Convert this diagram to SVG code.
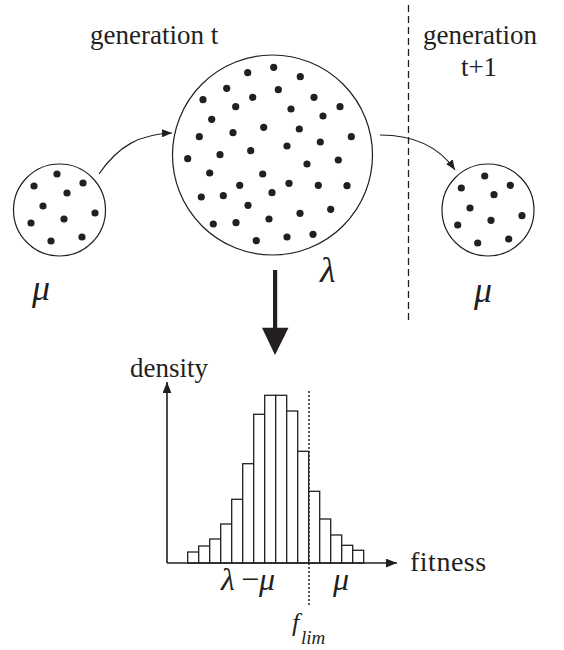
<svg xmlns="http://www.w3.org/2000/svg" width="564" height="650" viewBox="0 0 564 650">
<style>
.t{font-family:'Liberation Serif','Times New Roman',serif;fill:#231f20}
.g{font-family:'Liberation Serif','Times New Roman',serif;font-style:italic;fill:#231f20}
.pop{fill:#fff;stroke:#231f20;stroke-width:1.2}
.dot{fill:#231f20}
.bar{fill:#fff;stroke:#231f20;stroke-width:1.3}
.ln{fill:none;stroke:#231f20;stroke-width:1.2}
</style>
<defs>
<marker id="ah" viewBox="0 0 10 8" refX="10" refY="4" markerWidth="10" markerHeight="8" markerUnits="userSpaceOnUse" orient="auto">
<path d="M0,0 L10,4 L0,8 Z" fill="#231f20"/>
</marker>
<marker id="ax" viewBox="0 0 10 8" refX="10" refY="4" markerWidth="11" markerHeight="9" markerUnits="userSpaceOnUse" orient="auto">
<path d="M0,0 L10,4 L0,8 Z" fill="#231f20"/>
</marker>
</defs>
<rect width="564" height="650" fill="#fff"/>

<text class="t" x="90" y="44" font-size="27">generation t</text>
<text class="t" x="423" y="44" font-size="27">generation</text>
<text class="t" x="479" y="76" font-size="27" text-anchor="middle">t+1</text>

<line x1="408.5" y1="5" x2="408.5" y2="322" stroke="#231f20" stroke-width="1.3" stroke-dasharray="7,4"/>

<g id="pop-mu-left">
<circle class="pop" cx="59.5" cy="210" r="46"/>
<g class="dot">
<circle cx="57" cy="174" r="3.6"/><circle cx="34" cy="186" r="3.6"/><circle cx="83" cy="183" r="3.6"/>
<circle cx="67" cy="193" r="3.6"/><circle cx="43" cy="206" r="3.6"/><circle cx="95" cy="213" r="3.6"/>
<circle cx="64" cy="219" r="3.6"/><circle cx="31" cy="223" r="3.6"/><circle cx="51" cy="241" r="3.6"/>
<circle cx="82" cy="237" r="3.6"/>
</g>
<text class="g" x="32" y="300" font-size="36">μ</text>
</g>

<g id="pop-lambda">
<circle class="pop" cx="272.5" cy="155" r="100"/>
<g class="dot">
<circle cx="247.7" cy="72.7" r="3.6"/><circle cx="273.7" cy="67.3" r="3.6"/><circle cx="300.3" cy="76.7" r="3.6"/>
<circle cx="226.7" cy="88.3" r="3.6"/><circle cx="278.3" cy="89.7" r="3.6"/><circle cx="203" cy="99.7" r="3.6"/>
<circle cx="252.7" cy="97.3" r="3.6"/><circle cx="314" cy="97.3" r="3.6"/><circle cx="235.7" cy="106.7" r="3.6"/>
<circle cx="291" cy="109" r="3.6"/><circle cx="340" cy="106.7" r="3.6"/><circle cx="211.7" cy="119.3" r="3.6"/>
<circle cx="323" cy="116" r="3.6"/><circle cx="263.7" cy="127.3" r="3.6"/><circle cx="299.3" cy="129" r="3.6"/>
<circle cx="233" cy="132.7" r="3.6"/><circle cx="199.3" cy="136.7" r="3.6"/><circle cx="351.3" cy="136.7" r="3.6"/>
<circle cx="320.3" cy="142" r="3.6"/><circle cx="287" cy="146" r="3.6"/><circle cx="250.7" cy="150.7" r="3.6"/>
<circle cx="187.7" cy="158.7" r="3.6"/><circle cx="220" cy="154.7" r="3.6"/><circle cx="338.3" cy="160" r="3.6"/>
<circle cx="307" cy="164" r="3.6"/><circle cx="209.7" cy="173" r="3.6"/><circle cx="262.7" cy="174" r="3.6"/>
<circle cx="239.7" cy="185.3" r="3.6"/><circle cx="289" cy="183.3" r="3.6"/><circle cx="318.3" cy="185.3" r="3.6"/>
<circle cx="347" cy="185.7" r="3.6"/><circle cx="201.3" cy="197" r="3.6"/><circle cx="223.3" cy="195.7" r="3.6"/>
<circle cx="272" cy="192.7" r="3.6"/><circle cx="248" cy="205.3" r="3.6"/><circle cx="300" cy="213.3" r="3.6"/>
<circle cx="330.7" cy="209.3" r="3.6"/><circle cx="213.3" cy="224" r="3.6"/><circle cx="236" cy="222.7" r="3.6"/>
<circle cx="269" cy="219" r="3.6"/><circle cx="256.3" cy="240.7" r="3.6"/><circle cx="287" cy="237" r="3.6"/>
<circle cx="313" cy="234.3" r="3.6"/>
</g>
<text class="g" x="320" y="282" font-size="36">λ</text>
</g>

<g id="pop-mu-right">
<circle class="pop" cx="488" cy="210" r="46"/>
<g class="dot">
<circle cx="484.7" cy="176" r="3.6"/><circle cx="461.3" cy="188" r="3.6"/><circle cx="510.3" cy="185.3" r="3.6"/>
<circle cx="494" cy="194.7" r="3.6"/><circle cx="470" cy="208" r="3.6"/><circle cx="522" cy="215.7" r="3.6"/>
<circle cx="491" cy="220.3" r="3.6"/><circle cx="457.7" cy="225" r="3.6"/><circle cx="477.7" cy="243" r="3.6"/>
<circle cx="508.7" cy="239" r="3.6"/>
</g>
<text class="g" x="474" y="302" font-size="36">μ</text>
</g>

<g id="connectors">
<path class="ln" d="M99,174 C118,146 140,134 172,133" marker-end="url(#ah)"/>
<path class="ln" d="M380,135 C415,135 440,148 455,170" marker-end="url(#ah)"/>
<rect x="273" y="270" width="4.2" height="59" fill="#231f20"/>
<path d="M262,327.7 L288.5,327.7 L275,355 Z" fill="#231f20"/>
</g>

<g id="histogram">
<text class="t" x="130" y="377" font-size="27">density</text>
<g>
<rect class="bar" x="187.7" y="552" width="11" height="11"/>
<rect class="bar" x="198.7" y="546" width="11" height="17"/>
<rect class="bar" x="209.7" y="539" width="11" height="24"/>
<rect class="bar" x="220.7" y="524" width="11" height="39"/>
<rect class="bar" x="231.7" y="499.3" width="11" height="63.7"/>
<rect class="bar" x="242.7" y="463.7" width="11" height="99.3"/>
<rect class="bar" x="253.7" y="414.3" width="11" height="148.7"/>
<rect class="bar" x="264.7" y="395.3" width="11" height="167.7"/>
<rect class="bar" x="275.7" y="395.3" width="11" height="167.7"/>
<rect class="bar" x="286.7" y="411" width="11" height="152"/>
<rect class="bar" x="297.7" y="451.3" width="11" height="111.7"/>
<rect class="bar" x="308.7" y="491.3" width="11" height="71.7"/>
<rect class="bar" x="319.7" y="519" width="11" height="44"/>
<rect class="bar" x="330.7" y="535" width="11" height="28"/>
<rect class="bar" x="341.7" y="545.3" width="11" height="17.7"/>
<rect class="bar" x="352.7" y="550.3" width="11" height="12.7"/>
</g>
<line x1="167" y1="563" x2="167" y2="382" stroke="#231f20" stroke-width="1.6" marker-end="url(#ax)"/>
<line x1="167" y1="563" x2="397" y2="563" stroke="#231f20" stroke-width="1.6" marker-end="url(#ax)"/>
<line x1="309" y1="391" x2="309" y2="605" stroke="#231f20" stroke-width="1.5" stroke-dasharray="2,2"/>
<text class="t" x="410" y="571" font-size="28" letter-spacing="0.5">fitness</text>
<text class="g" y="590" font-size="32"><tspan x="221">λ</tspan><tspan x="239">−</tspan><tspan x="259">μ</tspan></text>
<text class="g" x="333" y="590" font-size="32">μ</text>
<text class="g" x="292" y="631" font-size="26">f</text>
<text class="g" x="301" y="644" font-size="19">lim</text>
</g>
</svg>
